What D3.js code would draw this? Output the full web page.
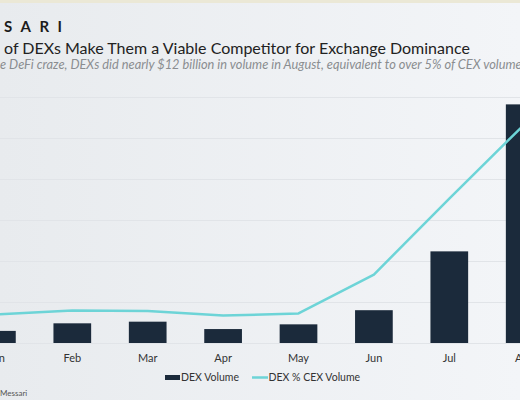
<!DOCTYPE html>
<html lang="en">
<head>
<meta charset="UTF-8">
<title>DEX Volume</title>
<script src="https://d3js.org/d3.v7.min.js"></script>
<style>
  html, body { margin: 0; padding: 0; overflow: hidden; }
  body { width: 520px; height: 400px; }
  text { font-family: Lato, "Noto Sans", sans-serif; }
</style>
</head>
<body>
<svg width="520" height="400"></svg>
<script>
  // data
  var months = ['Jan', 'Feb', 'Mar', 'Apr', 'May', 'Jun', 'Jul', 'Aug'];
  var dexVolume = [0.59, 0.96, 1.04, 0.68, 0.91, 1.6, 4.47, 11.64];   // $B
  var dexPctCex = [0.70, 0.79, 0.78, 0.67, 0.72, 1.67, 3.52, 5.34];   // %
  var volTicks = [0, 2, 4, 6, 8, 10, 12];
  var legendItems = ['DEX Volume', 'DEX % CEX Volume'];

  var W = 520, H = 400;
  var plotTop = 97, base = 343;
  var barColor = '#1b2a3b', lineColor = '#6dd4d7';

  var svg = d3.select('svg');

  var defs = svg.append('defs');
  var grad = defs.append('linearGradient').attr('id', 'bg')
      .attr('x1', 0).attr('x2', 1).attr('y1', 0).attr('y2', 0);
  grad.append('stop').attr('offset', 0).attr('stop-color', '#e8ebee');
  grad.append('stop').attr('offset', 1).attr('stop-color', '#f3f5f8');

  svg.append('rect').attr('width', W).attr('height', H).attr('fill', 'url(#bg)');
  svg.append('rect').attr('width', W).attr('height', 3).attr('fill', '#ebe8d6');

  // header
  svg.append('text').attr('x', 4).attr('y', 32)
      .style('font-size', '15px').style('font-weight', 'bold')
      .style('letter-spacing', '8.5px').attr('fill', '#1c1c1c')
      .text('SARI');
  svg.append('text').attr('x', 4).attr('y', 54)
      .style('font-size', '16px').attr('fill', '#222')
      .text('of DEXs Make Them a Viable Competitor for Exchange Dominance');
  svg.append('text').attr('x', 0).attr('y', 69)
      .style('font-size', '12.8px').style('font-style', 'italic').attr('fill', '#8a8d90')
      .text('e DeFi craze, DEXs did nearly $12 billion in volume in August, equivalent to over 5% of CEX volume');

  // scales (chart is wider than the window, Jan sits at the left edge)
  var x = d3.scaleBand().domain(months)
      .range([-40.8, -40.8 + 8 * 75.4])
      .paddingInner(0.5).paddingOuter(0.25);
  var yVol = d3.scaleLinear().domain([0, 12]).range([base, plotTop]);
  var yPct = d3.scaleLinear().domain([0, 6]).range([base, plotTop]);

  // gridlines
  var grid = svg.append('g')
      .call(d3.axisLeft(yVol).tickValues(volTicks).tickSize(-W).tickFormat(''));
  grid.select('.domain').remove();
  grid.selectAll('.tick line').attr('stroke', '#e1e4e8').attr('stroke-width', 1);

  // bars
  svg.append('g').selectAll('rect').data(dexVolume)
      .enter().append('rect')
      .attr('x', function (d, i) { return x(months[i]); })
      .attr('width', x.bandwidth())
      .attr('y', function (d) { return yVol(d); })
      .attr('height', function (d) { return base - yVol(d); })
      .attr('fill', barColor);

  // line
  var line = d3.line()
      .x(function (d, i) { return x(months[i]) + x.bandwidth() / 2; })
      .y(function (d) { return yPct(d); });
  svg.append('path').datum(dexPctCex)
      .attr('d', line)
      .attr('fill', 'none')
      .attr('stroke', lineColor)
      .attr('stroke-width', 2.5)
      .attr('stroke-linejoin', 'round');

  // x axis labels
  var xAxis = svg.append('g').attr('transform', 'translate(0,' + base + ')')
      .call(d3.axisBottom(x).tickSize(0).tickPadding(11));
  xAxis.select('.domain').remove();
  xAxis.selectAll('text')
      .style('font-size', '11px').style('font-family', 'Lato, sans-serif')
      .attr('fill', '#333');

  // legend
  var lg = svg.append('g').attr('transform', 'translate(0,381)');
  lg.append('rect').attr('x', 165).attr('y', -6).attr('width', 15).attr('height', 5).attr('fill', barColor);
  lg.append('text').attr('x', 181).attr('y', 0)
      .style('font-size', '10.5px').attr('fill', '#333').text(legendItems[0]);
  lg.append('line').attr('x1', 252).attr('x2', 268).attr('y1', -3.5).attr('y2', -3.5)
      .attr('stroke', lineColor).attr('stroke-width', 2.5);
  lg.append('text').attr('x', 268.5).attr('y', 0)
      .style('font-size', '10.5px').attr('fill', '#333').text(legendItems[1]);

  // source
  svg.append('text').attr('x', 0).attr('y', 396)
      .style('font-size', '8px').attr('fill', '#555').text('Messari');
</script>
</body>
</html>
